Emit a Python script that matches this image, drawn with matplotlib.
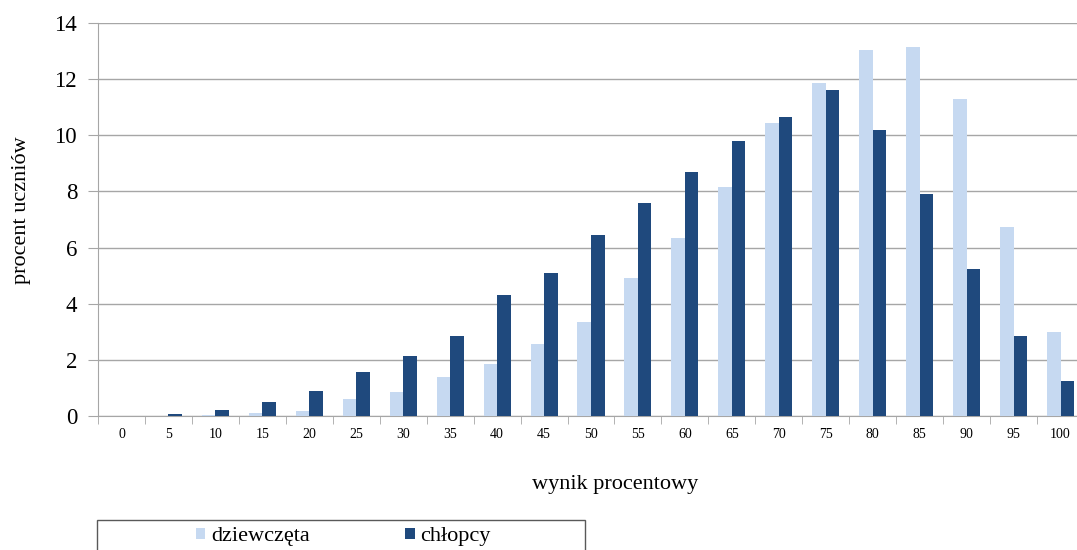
import numpy as np
import matplotlib.pyplot as plt
from matplotlib.patches import Rectangle

plt.rcParams["font.family"] = ["Liberation Serif", "DejaVu Serif"]

wyniki = [0, 5, 10, 15, 20, 25, 30, 35, 40, 45, 50, 55, 60, 65, 70, 75, 80, 85, 90, 95, 100]
dziewczeta = [0.0, 0.0, 0.02, 0.1, 0.18, 0.6, 0.85, 1.4, 1.85, 2.55, 3.35, 4.9, 6.35, 8.15,
              10.45, 11.85, 13.05, 13.15, 11.3, 6.75, 3.0]
chlopcy = [0.0, 0.07, 0.2, 0.5, 0.9, 1.55, 2.15, 2.85, 4.3, 5.1, 6.45, 7.6, 8.7, 9.8,
           10.65, 11.6, 10.2, 7.9, 5.25, 2.85, 1.25]

W, H = 1077, 550
fig = plt.figure(figsize=(W / 100, H / 100), dpi=100)
# axes in pixel terms; the right edge runs past the figure like the original
ax = fig.add_axes([98 / W, (H - 416) / H, (1084 - 98) / W, (416 - 23) / H])

x = np.arange(len(wyniki))
bw = 0.288
ax.bar(x - bw / 2, dziewczeta, bw, color="#C6D9F1", label="dziewczęta", zorder=3)
ax.bar(x + bw / 2, chlopcy, bw, color="#1F497D", label="chłopcy", zorder=3)

ax.set_xlim(-0.5, len(wyniki) - 0.5)
ax.set_ylim(0, 14)
ax.set_yticks(np.arange(0, 15, 2))
ax.yaxis.grid(True, color="#A6A6A6", linewidth=1, zorder=0)

ax.set_xticks(x)
ax.set_xticklabels([str(v) for v in wyniki], fontsize=10)
ax.set_xticks(np.arange(-0.5, len(wyniki)), minor=True)
ax.tick_params(axis="x", which="major", length=0, pad=9)
ax.tick_params(axis="x", which="minor", length=6, color="#A6A6A6", direction="out")
ax.tick_params(axis="y", length=7, color="#A6A6A6", labelsize=16.5, pad=8)

for s in ["top", "right"]:
    ax.spines[s].set_visible(False)
for s in ["left", "bottom"]:
    ax.spines[s].set_color("#A6A6A6")

fig.text(22 / W, 1 - 210 / H, "procent uczniów", rotation=90, fontsize=16,
         ha="center", va="center")
fig.text(615 / W, 1 - 485 / H, "wynik procentowy", fontsize=16,
         ha="center", va="center")

# legend: entries without frame, frame box drawn separately (cut off by the figure edge)
leg = fig.legend(loc="center left", bbox_to_anchor=(185 / W, 1 - 537 / H),
                 bbox_transform=fig.transFigure, ncol=2, frameon=False,
                 fontsize=16, handlelength=0.42, handleheight=0.42,
                 handletextpad=0.25, columnspacing=4.3, borderpad=0)
fig.patches.append(Rectangle((97 / W, -10 / H), 488 / W, 40 / H,
                             transform=fig.transFigure, fill=False,
                             edgecolor="#595959", linewidth=1))

fig.savefig("out.png", dpi=100)
